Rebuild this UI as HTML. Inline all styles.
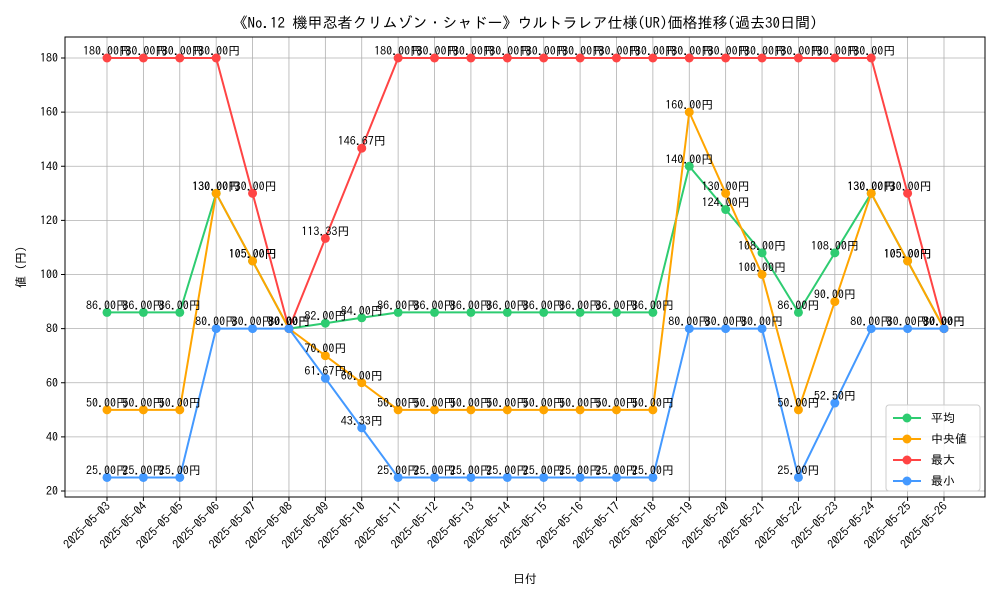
<!DOCTYPE html>
<html><head><meta charset="utf-8">
<style>
body{margin:0;background:#fff;}
svg{display:block;font-family:"IPAGothic","Liberation Sans","Noto Sans CJK JP",sans-serif;}
</style></head>
<body>
<svg id="chart" width="1000" height="600" viewBox="0 0 1000 600"></svg>
<script>
const categories=["2025-05-03","2025-05-04","2025-05-05","2025-05-06","2025-05-07","2025-05-08","2025-05-09","2025-05-10","2025-05-11","2025-05-12","2025-05-13","2025-05-14","2025-05-15","2025-05-16","2025-05-17","2025-05-18","2025-05-19","2025-05-20","2025-05-21","2025-05-22","2025-05-23","2025-05-24","2025-05-25","2025-05-26"];
const avgValues=[86,86,86,130,105,80,82,84,86,86,86,86,86,86,86,86,140,124,108,86,108,130,105,80];
const medianValues=[50,50,50,130,105,80,70,60,50,50,50,50,50,50,50,50,160,130,100,50,90,130,105,80];
const maxValues=[180,180,180,180,130,80,113.33,146.67,180,180,180,180,180,180,180,180,180,180,180,180,180,180,130,80];
const minValues=[25,25,25,80,80,80,61.67,43.33,25,25,25,25,25,25,25,25,80,80,80,25,52.5,80,80,80];
const yTicks=[20,40,60,80,100,120,140,160,180];
const seriesNames=["平均","中央値","最大","最小"];

const NS="http://www.w3.org/2000/svg";
const svg=document.getElementById('chart');
const L=65,R=985,T=37,B=497;
const x=i=>107+i*(944-107)/(categories.length-1);
const y=v=>491+(v-20)*(58-491)/160;
function mk(tag,attrs,parent){const e=document.createElementNS(NS,tag);for(const k in attrs)e.setAttribute(k,attrs[k]);(parent||svg).appendChild(e);return e;}

const title=mk('text',{x:525,y:28,'text-anchor':'middle','font-size':15});
title.textContent="《No.12 機甲忍者クリムゾン・シャドー》ウルトラレア仕様(UR)価格推移(過去30日間)";



// grid
yTicks.forEach(v=>{
  const g=mk('line',{x1:L,x2:R,y1:y(v),y2:y(v),stroke:'#b0b0b0','stroke-width':0.8});
  
  
  mk('line',{x1:L-4,x2:L,y1:y(v),y2:y(v),stroke:'#000'});
  const t=mk('text',{x:L-7,y:y(v)+4,'text-anchor':'end','font-size':12});
  t.textContent=v;
  
  
});
categories.forEach((c,i)=>{
  const g=mk('line',{x1:x(i),x2:x(i),y1:T,y2:B,stroke:'#b0b0b0','stroke-width':0.8});
  
  
  mk('line',{x1:x(i),x2:x(i),y1:B,y2:B+4,stroke:'#000'});
  const t=mk('text',{x:x(i)+4,y:B+10,'text-anchor':'end','font-size':12,transform:`rotate(-45 ${x(i)+4} ${B+10})`});
  t.textContent=c;
  
  
});
const frame=mk('rect',{x:L,y:T,width:R-L,height:B-T,fill:'none',stroke:'#000','stroke-width':1});



const xt=mk('text',{x:525,y:583,'text-anchor':'middle','font-size':12});
xt.textContent="日付";


const yt=mk('text',{x:25,y:267,'text-anchor':'middle','font-size':12,transform:'rotate(-90 25 267)'});
yt.textContent="値 (円)";



const series=[[avgValues,'#2ecc71','avg'],[medianValues,'#ffa500','median'],[maxValues,'#ff4444','max'],[minValues,'#4499ff','min']];
series.forEach(([vals,col,nm])=>{
  const p=mk('polyline',{points:vals.map((v,i)=>x(i)+','+y(v)).join(' '),fill:'none',stroke:col,'stroke-width':2});
  
  
  vals.forEach((v,i)=>{
    const c=mk('circle',{cx:x(i),cy:y(v),r:4.5,fill:col});
    
    
  });
});
series.forEach(([vals,col,nm])=>{
  vals.forEach((v,i)=>{
    const t=mk('text',{x:x(i),y:y(v)-3,'text-anchor':'middle','font-size':12});
    t.textContent=v.toFixed(2)+"円";
    
    
  });
});

// legend
const lg=mk('g',{});


mk('rect',{x:886,y:405,width:94,height:86,rx:3,fill:'#fff','fill-opacity':0.85,stroke:'#ccc'},lg);
series.forEach(([vals,col,nm],k)=>{
  const yy=418+k*21;
  const e=mk('g',{},lg);
  
  
  mk('line',{x1:893,x2:921,y1:yy,y2:yy,stroke:col,'stroke-width':2},e);
  mk('circle',{cx:907,cy:yy,r:4.5,fill:col},e);
  const t=mk('text',{x:931,y:yy+4,'font-size':12},e);
  t.textContent=seriesNames[k];
});
</script>
</body></html>
